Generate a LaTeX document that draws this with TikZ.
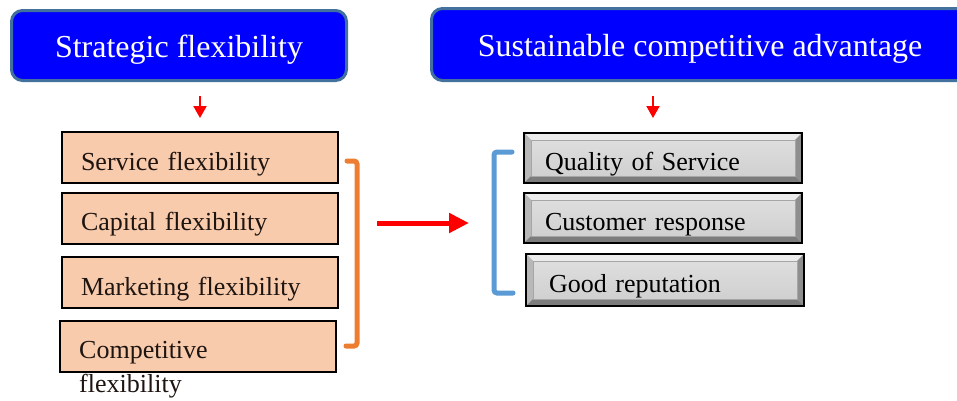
\documentclass[tikz,border=0pt]{standalone}
\usepackage{fontspec}
\setmainfont{Liberation Serif}
\usetikzlibrary{arrows.meta,calc}

\definecolor{headfill}{HTML}{0000FF}
\definecolor{headline}{HTML}{41719C}
\definecolor{peach}{HTML}{F8CBAD}
\definecolor{boxtext}{HTML}{1E1410}
\definecolor{bracketorange}{HTML}{ED7D31}
\definecolor{bracketblue}{HTML}{5B9BD5}
\definecolor{arrowred}{HTML}{FF0000}
\definecolor{bevellight}{HTML}{ECECEC}
\definecolor{bevelleft}{HTML}{B8B8B8}
\definecolor{bevelright}{HTML}{8E8E8E}
\definecolor{beveldark}{HTML}{7C7C7C}
\definecolor{facetop}{HTML}{DEDEDE}
\definecolor{facebot}{HTML}{D0D0D0}

\begin{document}
\begin{tikzpicture}[x=1pt,y=-1pt,
  header/.style={rectangle, rounded corners=11pt, draw=headline, line width=3pt,
    fill=headfill, text=white, inner sep=0pt, text height=25pt, text depth=2pt,
    font=\fontsize{32}{38}\selectfont},
  flexbox/.style={rectangle, draw=black, line width=2pt, fill=peach,
    minimum width=276pt, minimum height=51pt, text width=238pt,
    inner xsep=19pt, inner ysep=0pt, align=left, text=boxtext,
    text height=26pt, text depth=1pt,
    font=\fontsize{26}{34}\selectfont},
  advbox/.style={rectangle, draw=black, line width=2pt, fill=bevelleft,
    minimum width=278pt, minimum height=50pt, text width=236pt,
    inner xsep=21pt, inner ysep=0pt, align=left, text=black,
    text height=26pt, text depth=1pt,
    font=\fontsize{26}{34}\selectfont,
    path picture={
      \coordinate (pA) at (path picture bounding box.north west);
      \coordinate (pB) at (path picture bounding box.north east);
      \coordinate (pC) at (path picture bounding box.south east);
      \coordinate (pD) at (path picture bounding box.south west);
      \fill[bevellight] (pA) -- (pB) -- ($(pB)+(-7pt,-7pt)$) -- ($(pA)+(7pt,-7pt)$) -- cycle;
      \fill[bevelleft] (pA) -- ($(pA)+(7pt,-7pt)$) -- ($(pD)+(7pt,7pt)$) -- (pD) -- cycle;
      \fill[beveldark] (pD) -- ($(pD)+(7pt,7pt)$) -- ($(pC)+(-7pt,7pt)$) -- (pC) -- cycle;
      \fill[bevelright] (pB) -- (pC) -- ($(pC)+(-7pt,7pt)$) -- ($(pB)+(-7pt,-7pt)$) -- cycle;
      \shade[top color=facetop, bottom color=facebot, draw=gray!70, line width=0.6pt]
        ($(pA)+(7pt,-7pt)$) rectangle ($(pC)+(-7pt,7pt)$);
    }},
  smallarrow/.style={draw=arrowred, fill=arrowred, line width=2pt,
    -{Triangle[length=12pt,width=13pt]}},
  bigarrow/.style={draw=arrowred, fill=arrowred, line width=5pt,
    -{Triangle[length=20pt,width=19pt]}},
  bracket/.style={line width=5pt, rounded corners=3pt, line cap=round}
]
\useasboundingbox[fill=white] (0,0) rectangle (957,400);
\clip (0,0) rectangle (957,400);

% column headers
\node[header, minimum width=335pt, minimum height=70pt] (hleft) at (179,45.5)
  {Strategic flexibility};
\node[header, minimum width=537pt, minimum height=72pt] (hright) at (700,44.5)
  {Sustainable competitive advantage};

% strategic flexibility dimensions
\node[flexbox] (service) at (200,157.5) {Service flexibility};
\node[flexbox] (capital) at (200,218) {Capital flexibility};
\node[flexbox] (marketing) at (200,282.5) {Marketing flexibility};
\node[flexbox] (competitive) at (197.5,346.5) {};
\node[anchor=north west, inner sep=0pt, align=left, text=boxtext,
  font=\fontsize{26}{34}\selectfont] (competitivetext) at (79,341)
  {Competitive\\flexibility};

% competitive advantage outcomes
\node[advbox] (quality) at (663,158) {Quality of Service};
\node[advbox] (customer) at (663,218) {Customer response};
\node[advbox, minimum height=52pt, inner xsep=23pt, text width=232pt] (reputation) at (665,280)
  {Good reputation};

% arrows from headers to their lists
\draw[smallarrow, shorten <=14pt, shorten >=13pt] (hleft.south -| service.north) -- (service.north);
\draw[smallarrow, shorten <=14pt, shorten >=14pt]
  ($(hright.south -| quality.north)+(-10pt,0pt)$) -- ($(quality.north)+(-10pt,0pt)$);

% brackets grouping each list
\coordinate (obtop) at (357,161);
\coordinate (obbot) at (357,346);
\draw[bracket, bracketorange] (347,161) -- (obtop) -- (obbot) -- (346,346);
\coordinate (bbtop) at (494,152);
\coordinate (bbbot) at (494,293);
\draw[bracket, bracketblue] (512,152) -- (bbtop) -- (bbbot) -- (513,293);

% main link between the two groups
\coordinate (linkfrom) at (377,223);
\coordinate (linkto) at (469,223);
\draw[bigarrow] (linkfrom) -- (linkto);
\end{tikzpicture}
\end{document}
